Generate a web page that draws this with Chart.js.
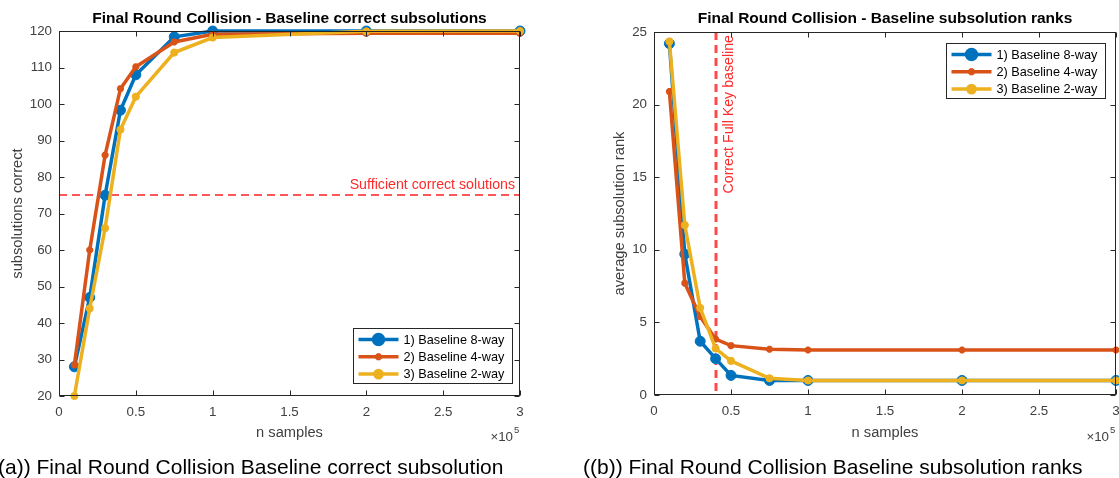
<!DOCTYPE html>
<html><head><meta charset="utf-8">
<script src="https://cdn.jsdelivr.net/npm/chart.js@4.4.1/dist/chart.umd.min.js"></script>
<style>
html,body{margin:0;padding:0;background:#fff;overflow:hidden;width:1119px;height:478px;}
canvas{position:absolute;top:0;}
#c1{left:0}
#c2{left:560px}
.cap{position:absolute;font-family:"Liberation Sans",Arial,sans-serif;font-size:21px;line-height:24px;color:#000;white-space:nowrap;top:455px;}
</style></head><body>
<canvas id="c1" width="560" height="478"></canvas>
<canvas id="c2" width="600" height="478"></canvas>
<div class="cap" style="left:-2px">(a)) Final Round Collision Baseline correct subsolution</div>
<div class="cap" style="left:583px">((b)) Final Round Collision Baseline subsolution ranks</div>
<script>
// ---------------- data ----------------
const samples = [10000, 20000, 30000, 40000, 50000, 75000, 100000, 200000, 300000];
const seriesNames = ['1) Baseline 8-way', '2) Baseline 4-way', '3) Baseline 2-way'];
const correct8 = [28, 47, 75, 98.3, 108, 118.4, 120, 120, 120];
const correct4 = [28.5, 60, 86, 104.2, 110.2, 117, 119.1, 119.4, 119.4];
const correct2 = [20, 44, 66, 93, 102, 114.1, 118.2, 119.9, 120];
const rank8 = [24.2, 9.7, 3.7, 2.5, 1.35, 1.0, 1.0, 1.0, 1.0];
const rank4 = [20.9, 7.7, 5.4, 3.85, 3.4, 3.15, 3.1, 3.1, 3.1];
const rank2 = [24.35, 11.7, 6.0, 3.2, 2.35, 1.15, 1.0, 1.0, 1.0];
const xTickLabels = [0, 0.5, 1, 1.5, 2, 2.5, 3];   // in units of 1e5
const sufficientThreshold = 75;
const sufficientLabel = 'Sufficient correct solutions';
const fullKeyBaselineSamples = 40000;
const fullKeyLabel = 'Correct Full Key baseline';

// ---------------- styles ----------------
const FONT = '"Liberation Sans", Arial, Helvetica, sans-serif';
const AX = '#262626';
const TICKC = '#404040';
const COLORS = ['#0072BD', '#D95319', '#EDB120'];

function datasets(a, b, c) {
  const pts = arr => samples.map((x, i) => ({x: x, y: arr[i]}));
  return [
    {label: seriesNames[0], data: pts(a), borderColor: COLORS[0], backgroundColor: COLORS[0],
     borderWidth: 3.5, pointStyle: 'circle', pointRadius: 5, pointBorderWidth: 1, order: 3, clip: false},
    {label: seriesNames[1], data: pts(b), borderColor: COLORS[1], backgroundColor: COLORS[1],
     borderWidth: 3.5, pointStyle: 'star', pointRadius: 3.5, pointBorderWidth: 2.5, order: 2, clip: false},
    {label: seriesNames[2], data: pts(c), borderColor: COLORS[2], backgroundColor: COLORS[2],
     borderWidth: 3.5, pointStyle: 'circle', pointRadius: 3.6, pointBorderWidth: 1, order: 1, clip: false}
  ];
}

const matlab = {
  id: 'matlab',
  beforeDatasetsDraw(chart, args, o) {
    if (o.annot) o.annot(chart);
  },
  afterDraw(chart, args, o) {
    const ctx = chart.ctx, a = chart.chartArea;
    const xs = chart.scales.x, ys = chart.scales.y;
    const L = Math.round(a.left) + 0.5, R = Math.round(a.right) - 0.5;
    const T = Math.round(a.top) + 0.5, B = Math.round(a.bottom) - 0.5;
    ctx.save();
    ctx.strokeStyle = AX; ctx.lineWidth = 1; ctx.setLineDash([]);
    ctx.strokeRect(L, T, R - L, B - T);
    const TL = 5;
    ctx.beginPath();
    xs.ticks.forEach(t => {
      const p = Math.round(xs.getPixelForValue(t.value)) + 0.5;
      ctx.moveTo(p, B); ctx.lineTo(p, B - TL);
      ctx.moveTo(p, T); ctx.lineTo(p, T + TL);
    });
    ys.ticks.forEach(t => {
      const p = Math.round(ys.getPixelForValue(t.value)) + 0.5;
      ctx.moveTo(L, p); ctx.lineTo(L + TL, p);
      ctx.moveTo(R, p); ctx.lineTo(R - TL, p);
    });
    ctx.stroke();
    const cx = (a.left + a.right) / 2, cy = (a.top + a.bottom) / 2;
    // title
    ctx.fillStyle = '#000';
    ctx.font = 'bold 15.5px ' + FONT;
    ctx.textAlign = 'center'; ctx.textBaseline = 'alphabetic';
    ctx.fillText(o.title, cx, 23);
    // x label
    ctx.fillStyle = TICKC;
    ctx.font = '14.67px ' + FONT;
    ctx.fillText(o.xlabel, cx, 437);
    // y label
    ctx.save();
    ctx.translate(o.ylabelX, cy);
    ctx.rotate(-Math.PI / 2);
    ctx.fillText(o.ylabel, 0, 0);
    ctx.restore();
    // x10^5
    ctx.font = '13.33px ' + FONT;
    ctx.textAlign = 'right';
    ctx.fillText('\u00d710', a.right - 7, 441);
    ctx.font = '9.5px ' + FONT;
    ctx.textAlign = 'left';
    ctx.fillText('5', a.right - 6, 433);
    // legend
    const bx = Math.round(a.right + o.legendDX) + 0.5, by = Math.round(a.top + o.legendDY) + 0.5;
    const bw = 159, bh = 55;
    ctx.fillStyle = '#fff';
    ctx.fillRect(bx, by, bw, bh);
    ctx.strokeStyle = AX; ctx.lineWidth = 1;
    ctx.strokeRect(bx, by, bw, bh);
    ctx.font = '12.7px ' + FONT;
    ctx.textBaseline = 'middle';
    chart.data.datasets.forEach((ds, i) => {
      const ry = by + 11 + i * 17.3;
      ctx.strokeStyle = ds.borderColor; ctx.lineWidth = ds.borderWidth;
      ctx.beginPath(); ctx.moveTo(bx + 5, ry); ctx.lineTo(bx + 45, ry); ctx.stroke();
      ctx.fillStyle = ds.backgroundColor;
      Chart.helpers.drawPoint(ctx, {pointStyle: ds.pointStyle, rotation: 0, radius: ds.pointRadius, borderWidth: ds.pointBorderWidth}, bx + 25, ry);
      ctx.fillStyle = '#000';
      ctx.textAlign = 'left';
      ctx.fillText(ds.label, bx + 50, ry + 0.5);
    });
    ctx.restore();
  }
};

function opts(ymin, ymax, ystep, yw, pad, pl) {
  return {
    responsive: false, animation: false, devicePixelRatio: 1,
    layout: {padding: pad},
    elements: {line: {tension: 0}},
    plugins: {legend: {display: false}, tooltip: {enabled: false}, title: {display: false}, matlab: pl},
    scales: {
      x: {type: 'linear', min: 0, max: 300000,
          afterBuildTicks: s => { s.ticks = xTickLabels.map(v => ({value: v * 1e5})); },
          ticks: {callback: v => String(v / 1e5), color: TICKC, font: {family: FONT, size: 13.33}, padding: 8, maxRotation: 0, autoSkip: false},
          grid: {display: false, drawTicks: false}, border: {display: false},
          afterFit: s => { s.height = 20; }},
      y: {type: 'linear', min: ymin, max: ymax,
          ticks: {stepSize: ystep, color: TICKC, font: {family: FONT, size: 13.33}, padding: 7},
          grid: {display: false, drawTicks: false}, border: {display: false},
          afterFit: s => { s.width = yw; }}
    }
  };
}

new Chart(document.getElementById('c1'), {
  type: 'line',
  data: {datasets: datasets(correct8, correct4, correct2)},
  options: opts(20, 120, 10, 59, {left: 0, top: 31, right: 40, bottom: 62}, {
    title: 'Final Round Collision - Baseline correct subsolutions',
    xlabel: 'n samples', ylabel: 'subsolutions correct', ylabelX: 22,
    legendDX: -167, legendDY: 297,
    annot: chart => {
      const ctx = chart.ctx, a = chart.chartArea, ys = chart.scales.y;
      const y = Math.round(ys.getPixelForValue(sufficientThreshold));
      ctx.save();
      ctx.strokeStyle = '#ff2020'; ctx.lineWidth = 1.4; ctx.setLineDash([8, 5]);
      ctx.beginPath(); ctx.moveTo(a.left, y); ctx.lineTo(a.right, y); ctx.stroke();
      ctx.fillStyle = '#ff2a2a'; ctx.font = '14.2px ' + FONT;
      ctx.textAlign = 'right'; ctx.textBaseline = 'alphabetic';
      ctx.fillText(sufficientLabel, a.right - 5, y - 6);
      ctx.restore();
    }
  }),
  plugins: [matlab]
});

new Chart(document.getElementById('c2'), {
  type: 'line',
  data: {datasets: datasets(rank8, rank4, rank2)},
  options: opts(0, 25, 5, 94, {left: 0, top: 32, right: 44, bottom: 63}, {
    title: 'Final Round Collision - Baseline subsolution ranks',
    xlabel: 'n samples', ylabel: 'average subsolution rank', ylabelX: 64,
    legendDX: -170, legendDY: 11,
    annot: chart => {
      const ctx = chart.ctx, a = chart.chartArea, xs = chart.scales.x;
      const x = Math.round(xs.getPixelForValue(fullKeyBaselineSamples));
      ctx.save();
      ctx.strokeStyle = 'rgba(255,40,40,0.85)'; ctx.lineWidth = 3; ctx.setLineDash([8, 5]);
      ctx.beginPath(); ctx.moveTo(x, a.top); ctx.lineTo(x, a.bottom); ctx.stroke();
      ctx.fillStyle = '#ff2a2a'; ctx.font = '14.2px ' + FONT;
      ctx.translate(x + 13, a.top + 3);
      ctx.rotate(-Math.PI / 2);
      ctx.textAlign = 'right'; ctx.textBaseline = 'middle';
      ctx.fillText(fullKeyLabel, 0, 0);
      ctx.restore();
    }
  }),
  plugins: [matlab]
});
</script>
</body></html>
